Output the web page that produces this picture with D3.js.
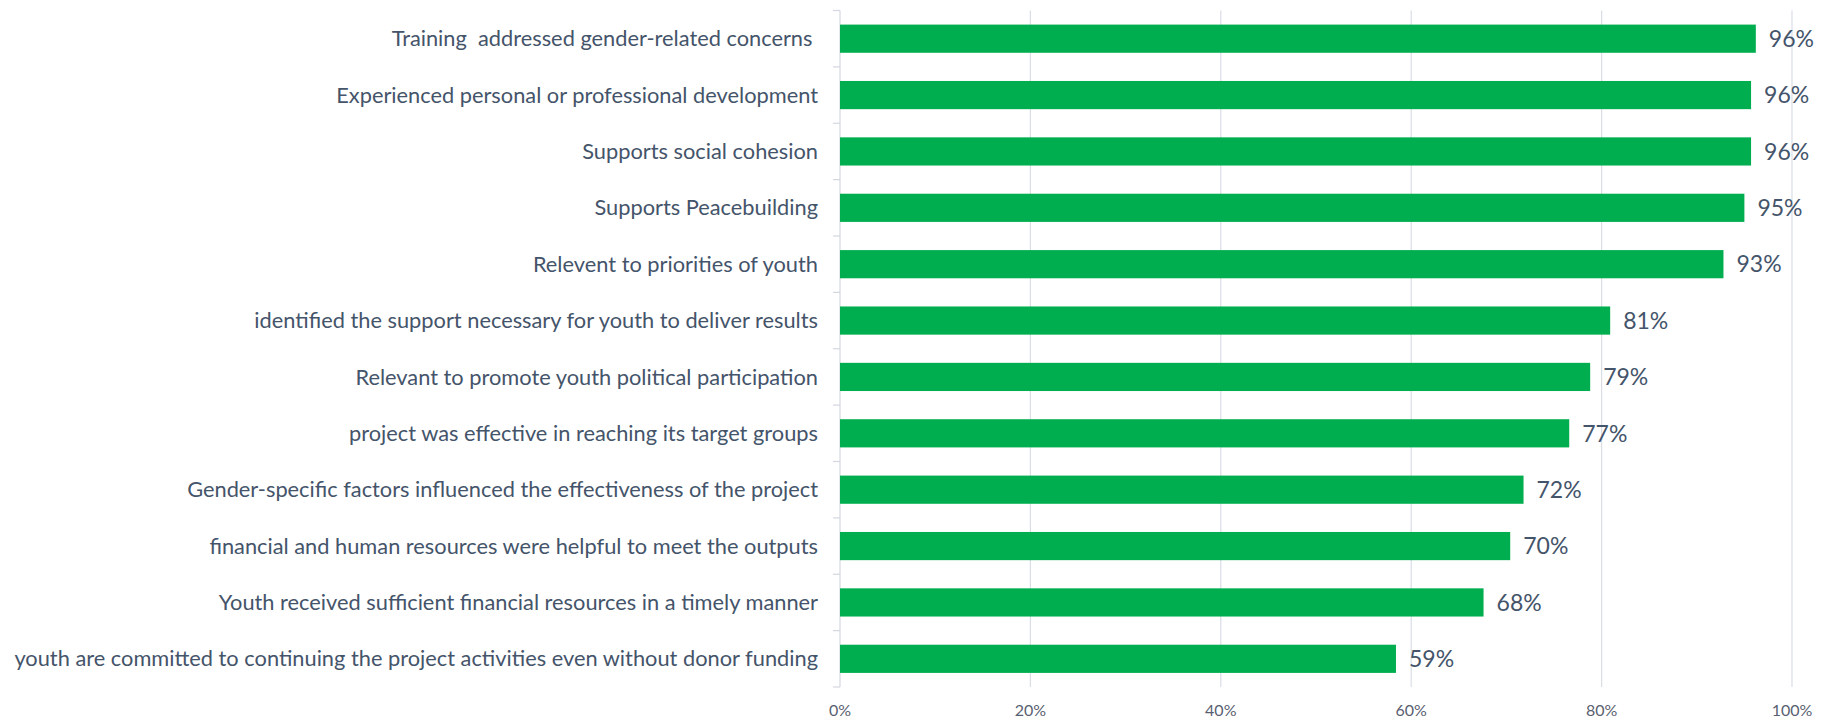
<!DOCTYPE html>
<head>
  <meta charset="utf-8">
  <script src="https://d3js.org/d3.v7.min.js"></script>
  <style>
    body { margin: 0; background: #fff; }
    svg text { font-family: Lato, "Open Sans", sans-serif; }
    .cat-label { fill: #44546A; font-size: 21.8px; white-space: pre; }
    .val-label { fill: #44546A; font-size: 23px; }
    .tick-label { fill: #595F70; font-size: 16px; }
  </style>
</head>
<body>
  <script>
    // chart size = the window
    var outerWidth = 1827,
      outerHeight = 722;

    // categories, top to bottom
    var categories = [
      'Training  addressed gender-related concerns ',
      'Experienced personal or professional development',
      'Supports social cohesion',
      'Supports Peacebuilding',
      'Relevent to priorities of youth',
      'identified the support necessary for youth to deliver results',
      'Relevant to promote youth political participation',
      'project was effective in reaching its target groups',
      'Gender-specific factors influenced the effectiveness of the project',
      'financial and human resources were helpful to meet the outputs',
      'Youth received sufficient financial resources in a timely manner',
      'youth are committed to continuing the project activities even without donor funding'
    ];

    // share of respondents (bar length)
    var values = [0.962, 0.957, 0.957, 0.950, 0.928, 0.809, 0.788, 0.766, 0.718, 0.704, 0.676, 0.584];

    // printed labels
    var valueLabels = ['96%', '96%', '96%', '95%', '93%', '81%', '79%', '77%', '72%', '70%', '68%', '59%'];

    var xTicks = [0, 0.2, 0.4, 0.6, 0.8, 1];

    var margin = { top: 10.5, left: 840, right: 35, bottom: 35 };
    var width = outerWidth - margin.left - margin.right,
      height = outerHeight - margin.top - margin.bottom;

    var xScale = d3.scaleLinear()
      .domain([0, 1])
      .range([0, width]);

    var yScale = d3.scaleBand()
      .domain(categories)
      .range([0, height])
      .paddingInner(0.5)
      .paddingOuter(0.25);

    var svg = d3.select('body')
      .append('svg')
      .attr('width', outerWidth)
      .attr('height', outerHeight)
      .append('g')
      .attr('transform', 'translate(' + margin.left + ' ' + margin.top + ')');

    // vertical gridlines (not at 0, the axis sits there)
    svg.selectAll('.grid')
      .data(xTicks.slice(1))
      .enter()
      .append('line')
      .attr('class', 'grid')
      .attr('x1', function(d) { return xScale(d); })
      .attr('x2', function(d) { return xScale(d); })
      .attr('y1', 0)
      .attr('y2', height)
      .attr('stroke', '#D9DDE6')
      .attr('stroke-width', 1.2);

    // category axis on the left, ticks between bands
    var step = yScale.step();
    svg.append('line')
      .attr('x1', 0).attr('x2', 0)
      .attr('y1', 0).attr('y2', height)
      .attr('stroke', '#D3D7DF')
      .attr('stroke-width', 1.2);

    svg.selectAll('.ytick')
      .data(d3.range(categories.length + 1))
      .enter()
      .append('line')
      .attr('class', 'ytick')
      .attr('x1', -7).attr('x2', 0)
      .attr('y1', function(i) { return i * step; })
      .attr('y2', function(i) { return i * step; })
      .attr('stroke', '#D3D7DF')
      .attr('stroke-width', 1.2);

    // bars
    svg.selectAll('.bar')
      .data(values)
      .enter()
      .append('rect')
      .attr('class', 'bar')
      .attr('x', 0)
      .attr('y', function(d, i) { return yScale(categories[i]); })
      .attr('width', function(d) { return xScale(d); })
      .attr('height', yScale.bandwidth())
      .attr('fill', '#00AE4F');

    // category labels
    svg.selectAll('.cat-label')
      .data(categories)
      .enter()
      .append('text')
      .attr('class', 'cat-label')
      .attr('x', -22)
      .attr('y', function(d) { return yScale(d) + yScale.bandwidth() / 2; })
      .attr('dy', '0.35em')
      .attr('text-anchor', 'end')
      .text(function(d) { return d; });

    // value labels at bar ends
    svg.selectAll('.val-label')
      .data(values)
      .enter()
      .append('text')
      .attr('class', 'val-label')
      .attr('x', function(d) { return xScale(d) + 13; })
      .attr('y', function(d, i) { return yScale(categories[i]) + yScale.bandwidth() / 2; })
      .attr('dy', '0.36em')
      .text(function(d, i) { return valueLabels[i]; });

    // percent axis labels
    svg.selectAll('.tick-label')
      .data(xTicks)
      .enter()
      .append('text')
      .attr('class', 'tick-label')
      .attr('x', function(d) { return xScale(d); })
      .attr('y', height + 23)
      .attr('dy', '0.35em')
      .attr('text-anchor', 'middle')
      .text(d3.format('.0%'));
  </script>
</body>
